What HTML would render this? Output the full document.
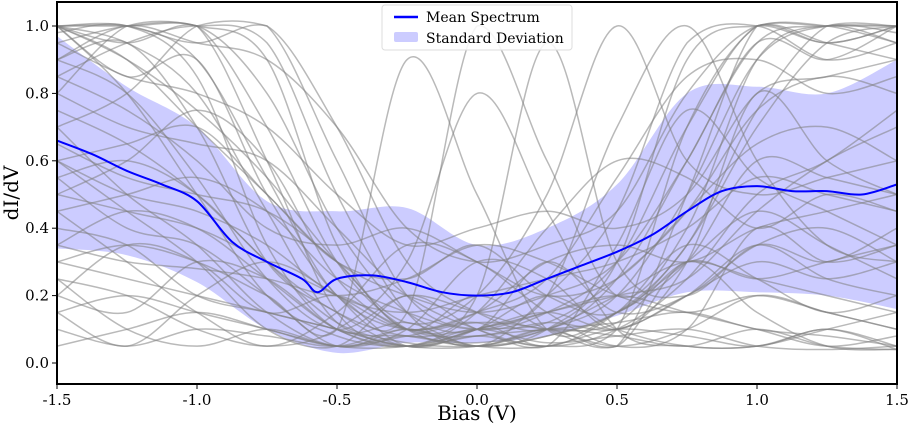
<!DOCTYPE html>
<html><head><meta charset="utf-8"><style>
body{margin:0;background:#fff}
svg{display:block;font-family:"DejaVu Serif","Liberation Serif",serif}
</style></head><body>
<svg id="chart" width="909" height="430">
<defs><clipPath id="clip"><rect x="57" y="2" width="840" height="382"/></clipPath></defs>
<g id="bands" clip-path="url(#clip)"></g>
<g id="spectra" clip-path="url(#clip)"></g>
<g id="meanl" clip-path="url(#clip)"></g>
<rect x="57" y="2" width="840" height="382" fill="none" stroke="#000" stroke-width="2"/>
<g id="axes"></g>
<text x="477" y="420" font-size="20" text-anchor="middle">Bias (V)</text>
<text x="18" y="193" font-size="20" text-anchor="middle" transform="rotate(-90 18 193)">dI/dV</text>
<g>
<rect x="382" y="5" width="190" height="45" rx="3" fill="#fff" fill-opacity="0.85" stroke="#ddd"/>
<line x1="394" y1="17" x2="418" y2="17" stroke="#0000ff" stroke-width="2.5"/>
<text x="426" y="22" font-size="14">Mean Spectrum</text>
<rect x="394" y="32" width="24" height="10" rx="2" fill="#0000ff" fill-opacity="0.2"/>
<text x="426" y="43" font-size="14">Standard Deviation</text>
</g>
</svg>
<script>
const biasGrid=[-1.5,-1.25,-1.0,-0.75,-0.5,-0.25,0,0.25,0.5,0.75,1.0,1.25,1.5];
const meanBias=[-1.5,-1.375,-1.25,-1.125,-1.0,-0.875,-0.75,-0.625,-0.57,-0.5,-0.375,-0.25,-0.125,0,0.125,0.25,0.375,0.5,0.625,0.75,0.875,1.0,1.125,1.25,1.375,1.5];
const meanValues=[0.66,0.62,0.57,0.53,0.48,0.36,0.30,0.25,0.21,0.25,0.26,0.24,0.21,0.20,0.21,0.25,0.29,0.33,0.38,0.45,0.51,0.525,0.51,0.51,0.50,0.53];
const stdBias=[-1.5,-1.25,-1.0,-0.75,-0.5,-0.25,0,0.25,0.5,0.75,1.0,1.25,1.5];
const stdUpper=[0.97,0.82,0.70,0.48,0.45,0.46,0.35,0.40,0.53,0.80,0.82,0.80,0.90];
const stdLower=[0.34,0.32,0.24,0.10,0.03,0.06,0.06,0.08,0.14,0.21,0.21,0.20,0.16];
const spectra=[
[1.0,0.95,0.8,0.45,0.12,0.08,0.06,0.1,0.2,0.5,0.9,1.0,0.98],
[0.95,1.0,1.0,0.7,0.3,0.1,0.05,0.08,0.15,0.35,0.75,1.0,1.0],
[0.6,0.5,0.45,0.35,0.2,0.15,0.2,0.25,0.3,0.4,0.55,0.5,0.45],
[0.3,0.25,0.2,0.15,0.1,0.05,0.08,0.1,0.12,0.15,0.1,0.08,0.05],
[1.0,0.9,0.7,0.5,0.3,0.2,0.15,0.2,0.3,0.6,0.95,0.9,1.0],
[0.2,0.15,0.3,0.25,0.1,0.05,0.1,0.15,0.1,0.2,0.3,0.25,0.3],
[0.85,0.75,0.6,0.4,0.35,0.4,0.3,0.2,0.25,0.45,0.65,0.7,0.6],
[0.1,0.05,0.1,0.08,0.05,0.1,0.05,0.1,0.08,0.05,0.1,0.05,0.04],
[0.7,0.8,1.0,1.0,0.6,0.2,0.1,0.15,0.3,0.7,1.0,0.95,1.0],
[0.5,0.45,0.4,0.3,0.2,0.1,0.15,0.3,0.35,0.3,0.4,0.45,0.5],
[0.95,0.85,0.8,0.7,0.5,0.35,0.4,0.45,0.4,0.5,0.8,0.85,0.9],
[0.4,0.35,0.2,0.15,0.1,0.05,0.05,0.1,0.2,0.3,0.25,0.2,0.15],
[1.0,1.0,0.9,0.55,0.2,0.15,1.0,0.6,0.2,0.4,0.9,1.0,0.95],
[0.65,0.55,0.5,0.45,0.3,0.1,0.2,0.95,0.3,0.2,0.35,0.3,0.4],
[0.3,0.35,0.3,0.2,0.1,0.9,0.5,0.1,0.15,0.3,0.6,0.55,0.5],
[0.15,0.2,0.15,0.1,0.05,0.05,0.1,0.2,0.7,1.0,0.6,0.35,0.3],
[0.8,0.7,0.65,0.6,0.4,0.2,0.1,0.05,0.1,0.25,0.5,0.6,0.75],
[0.55,0.6,0.5,0.3,0.15,0.08,0.1,0.12,0.25,0.45,0.75,0.85,0.8],
[1.0,0.95,1.0,0.8,0.4,0.15,0.1,0.3,0.15,0.2,0.35,0.4,0.3],
[0.35,0.3,0.28,0.25,0.2,0.25,0.35,0.3,0.2,0.15,0.2,0.15,0.1],
[0.9,1.0,0.95,0.9,0.7,0.4,0.3,0.35,0.45,0.8,1.0,0.95,0.9],
[0.25,0.2,0.1,0.05,0.1,0.3,0.8,0.45,0.1,0.05,0.05,0.1,0.05],
[0.75,0.65,0.5,0.3,0.12,0.06,0.05,0.08,0.15,0.3,0.45,0.35,0.25],
[0.05,0.1,0.15,0.1,0.05,0.08,0.12,0.1,0.05,0.1,0.2,0.15,0.1],
[1.0,0.9,0.75,0.55,0.3,0.12,0.2,0.5,1.0,0.6,0.5,0.55,0.6],
[0.45,0.5,0.55,0.45,0.25,0.15,0.1,0.15,0.2,0.25,0.45,0.6,0.7],
[0.6,0.65,0.7,0.5,0.3,0.25,0.35,0.2,0.15,0.35,0.7,0.95,1.0],
[0.9,0.8,0.55,0.25,0.1,0.2,0.15,0.1,0.12,0.3,0.25,0.3,0.35],
[1.0,1.0,1.0,0.6,0.15,0.05,0.08,0.05,0.1,0.7,1.0,1.0,1.0],
[0.98,1.0,0.85,0.35,0.1,0.12,0.05,0.1,0.3,0.9,1.0,0.95,1.0],
[0.8,1.0,1.0,0.9,0.35,0.1,0.2,0.1,0.05,0.5,1.0,1.0,0.95],
[1.0,0.8,0.5,0.2,0.08,0.05,0.1,0.06,0.08,0.1,0.05,0.04,0.05],
[0.55,0.4,0.35,0.2,0.05,0.1,0.05,0.05,0.1,0.08,0.05,0.1,0.04],
[0.9,0.95,0.7,0.3,0.15,0.05,0.1,0.15,0.2,0.15,0.1,0.05,0.08],
[0.2,0.35,0.3,0.15,0.2,0.1,0.12,0.05,0.15,0.35,0.25,0.15,0.2],
[0.45,0.3,0.15,0.05,0.15,0.35,0.3,0.15,0.05,0.1,0.4,0.3,0.35],
[0.7,0.5,0.35,0.15,0.05,0.1,0.3,0.25,0.1,0.3,0.8,0.6,0.5],
[1.0,1.0,0.95,1.0,0.7,0.3,0.15,0.1,0.25,0.6,0.95,1.0,1.0],
[0.85,0.95,1.0,0.95,0.5,0.15,0.05,0.2,0.45,0.95,1.0,0.9,0.95],
[0.35,0.45,0.4,0.25,0.1,0.05,0.15,0.4,0.6,0.55,0.4,0.5,0.45],
[0.6,0.45,0.3,0.1,0.05,0.2,0.1,0.05,0.35,0.75,0.55,0.45,0.35],
[0.25,0.1,0.05,0.1,0.05,0.08,0.05,0.1,0.05,0.3,0.15,0.05,0.04],
[1.0,0.85,0.9,0.5,0.2,0.1,0.15,0.25,0.55,0.85,0.9,0.8,0.85],
[0.5,0.6,0.75,0.6,0.25,0.1,0.08,0.12,0.1,0.2,0.35,0.25,0.2],
[0.15,0.05,0.2,0.3,0.2,0.05,0.1,0.2,0.1,0.05,0.05,0.1,0.15]
];
const xTicks=[-1.5,-1.0,-0.5,0.0,0.5,1.0,1.5];
const yTicks=[0.0,0.2,0.4,0.6,0.8,1.0];

const NS='http://www.w3.org/2000/svg';
function xs(b){return 57+(b+1.5)*280;}
function ys(v){return 363-v*337;}
function clampY(y){return Math.max(ys(1.02),Math.min(ys(0.03),y));}
function smooth(pts,clamp){
  let d='M'+pts[0][0].toFixed(1)+','+pts[0][1].toFixed(1);
  for(let i=0;i<pts.length-1;i++){
    const p0=pts[Math.max(0,i-1)],p1=pts[i],p2=pts[i+1],p3=pts[Math.min(pts.length-1,i+2)];
    let c1x=p1[0]+(p2[0]-p0[0])/6,c1y=p1[1]+(p2[1]-p0[1])/6;
    let c2x=p2[0]-(p3[0]-p1[0])/6,c2y=p2[1]-(p3[1]-p1[1])/6;
    if(clamp){c1y=clampY(c1y);c2y=clampY(c2y);}
    d+=' C'+c1x.toFixed(1)+','+c1y.toFixed(1)+' '+c2x.toFixed(1)+','+c2y.toFixed(1)+' '+p2[0].toFixed(1)+','+p2[1].toFixed(1);
  }
  return d;
}
function mk(tag,attrs,parent){const e=document.createElementNS(NS,tag);for(const k in attrs)e.setAttribute(k,attrs[k]);parent.appendChild(e);return e;}

const up=stdBias.map((b,i)=>[xs(b),ys(stdUpper[i])]);
const lo=stdBias.map((b,i)=>[xs(b),ys(stdLower[i])]).reverse();
const loD=smooth(lo).replace(/^M/,' L');
const band=mk('path',{d:smooth(up)+loD+' Z',fill:'#0000ff','fill-opacity':'0.2'},document.getElementById('bands'));



const sg=document.getElementById('spectra');
spectra.forEach((s)=>{
  const p=mk('path',{d:smooth(biasGrid.map((b,i)=>[xs(b),clampY(ys(s[i]))]),true),fill:'none',stroke:'#808080','stroke-opacity':'0.55','stroke-width':'1.5'},sg);
  
  
});

const ml=mk('path',{d:smooth(meanBias.map((b,i)=>[xs(b),ys(meanValues[i])])),fill:'none',stroke:'#0000ff','stroke-width':'2'},document.getElementById('meanl'));



const ax=document.getElementById('axes');
xTicks.forEach(t=>{
  const x=xs(t);
  const l=mk('line',{x1:x,y1:384,x2:x,y2:389,stroke:'#000','stroke-width':'1'},ax);
  
  
  const tx=mk('text',{x:x,y:405,'font-size':'15','text-anchor':'middle'},ax);
  tx.textContent=t.toFixed(1);
  
  
});
yTicks.forEach(t=>{
  const y=ys(t);
  const l=mk('line',{x1:52,y1:y,x2:57,y2:y,stroke:'#000','stroke-width':'1'},ax);
  
  
  const tx=mk('text',{x:49,y:y+5,'font-size':'15','text-anchor':'end'},ax);
  tx.textContent=t.toFixed(1);
  
  
});
</script>
</body></html>
